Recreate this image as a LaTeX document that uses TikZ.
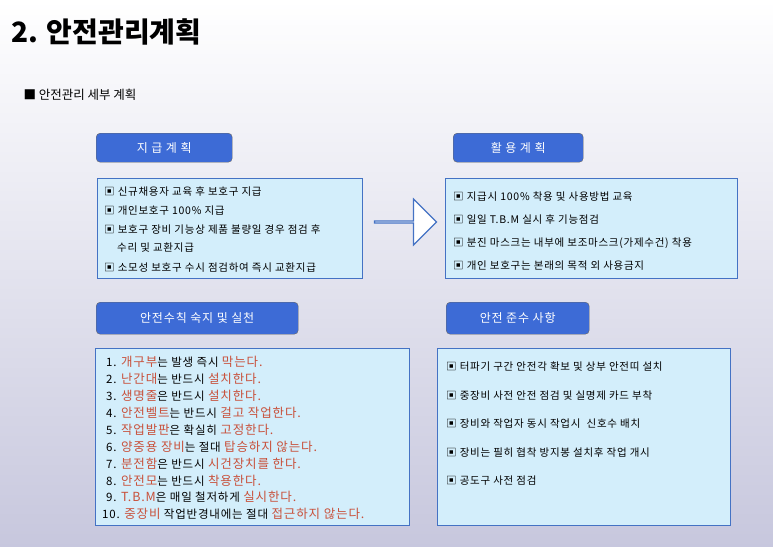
\documentclass[tikz,border=0pt]{standalone}
\usepackage{fontspec}
\setmainfont{Noto Sans CJK KR}[LetterSpace=7]
\newfontfamily\titlefont{Noto Sans CJK KR}
\usetikzlibrary{shapes.arrows}
\definecolor{hdrblue}{HTML}{3D6BD6}
\definecolor{boxblue}{HTML}{4472C4}
\definecolor{boxfill}{HTML}{D3EEFB}
\definecolor{emred}{HTML}{C8503A}
\newcommand{\hl}[1]{\textcolor{emred}{\fontsize{12.5}{15}\selectfont #1}}
\tikzset{
  header/.style={draw=black!60,fill=hdrblue,rounded corners=4pt,text=white,font=\fontsize{12}{14}\selectfont,anchor=north west},
  infobox/.style={draw=boxblue,line width=1.2pt,fill=boxfill,anchor=north west},
  item/.style={anchor=west,font=\fontsize{10.5}{12}\selectfont,inner sep=0pt},
  rule/.style={anchor=west,font=\fontsize{11.5}{13}\selectfont,inner sep=0pt}
}
\begin{document}
\begin{tikzpicture}[x=1pt,y=-1pt]
\shade[top color=white,bottom color=blue!25!gray!35] (0,0) rectangle (773,546);
\useasboundingbox (0,0) rectangle (773,546);
\node[anchor=west,font=\titlefont\bfseries\fontsize{28}{32}\selectfont] (title) at (8,32) {2. 안전관리계획};
\node[anchor=west,font=\titlefont\fontsize{12.5}{14}\selectfont] (sub) at (20,95) {■ 안전관리 세부 계획};
% headers
\node[header,minimum width=136pt,minimum height=29pt] (h1) at (96,133) {지 급 계 획};
\node[header,minimum width=130pt,minimum height=29pt] (h2) at (453,133) {활 용 계 획};
\node[header,minimum width=202pt,minimum height=32pt] (h3) at (96,302) {안전수칙 숙지 및 실천};
\node[header,minimum width=143pt,minimum height=32pt] (h4) at (446,302) {안전 준수 사항};
% boxes
\node[infobox,minimum width=265pt,minimum height=100pt] (b1) at (97,178) {};
\node[infobox,minimum width=292pt,minimum height=100pt] (b2) at (445,178) {};
\node[infobox,minimum width=314pt,minimum height=177pt] (b3) at (95,348) {};
\node[infobox,minimum width=293pt,minimum height=177pt] (b4) at (437,348) {};
\node[single arrow,draw=boxblue,line width=1.2pt,fill=white,minimum width=46pt,single arrow head extend=12pt,minimum height=62pt,inner sep=0pt] (arr) at (405,222) {};
% box 1
\node[item] at (104,192) {▣ 신규채용자 교육 후 보호구 지급};
\node[item] at (104,211) {▣ 개인보호구 100\% 지급};
\node[item] at (104,230) {▣ 보호구 장비 기능상 제품 불량일 경우 점검 후};
\node[item] at (117,248) {수리 및 교환지급};
\node[item] at (104,268) {▣ 소모성 보호구 수시 점검하여 즉시 교환지급};
% box 2
\node[item] at (453,197) {▣ 지급시 100\% 착용 및 사용방법 교육};
\node[item] at (453,220) {▣ 일일 T.B.M 실시 후 기능점검};
\node[item] at (453,243) {▣ 분진 마스크는 내부에 보조마스크(가제수건) 착용};
\node[item] at (453,266) {▣ 개인 보호구는 본래의 목적 외 사용금지};
% box 3
\node[rule] at (106,362) {1. \hl{개구부}는 발생 즉시 \hl{막는다.}};
\node[rule] at (106,379) {2. \hl{난간대}는 반드시 \hl{설치한다.}};
\node[rule] at (106,396) {3. \hl{생명줄}은 반드시 \hl{설치한다.}};
\node[rule] at (106,413) {4. \hl{안전벨트}는 반드시 \hl{걸고 작업한다.}};
\node[rule] at (106,430) {5. \hl{작업발판}은 확실히 \hl{고정한다.}};
\node[rule] at (106,447) {6. \hl{양중용 장비}는 절대 \hl{탑승하지 않는다.}};
\node[rule] at (106,464) {7. \hl{분전함}은 반드시 \hl{시건장치를 한다.}};
\node[rule] at (106,481) {8. \hl{안전모}는 반드시 \hl{착용한다.}};
\node[rule] at (106,497) {9. \hl{T.B.M}은 매일 철저하게 \hl{실시한다.}};
\node[rule] at (102,514) {10. \hl{중장비} 작업반경내에는 절대 \hl{접근하지 않는다.}};
% box 4
\node[item] at (446,367) {▣ 터파기 구간 안전각 확보 및 상부 안전띠 설치};
\node[item] at (446,396) {▣ 중장비 사전 안전 점검 및 실명제 카드 부착};
\node[item] at (446,424) {▣ 장비와 작업자 동시 작업시 \ 신호수 배치};
\node[item] at (446,453) {▣ 장비는 필히 협착 방지봉 설치후 작업 개시};
\node[item] at (446,481) {▣ 공도구 사전 점검};
\end{tikzpicture}
\end{document}
